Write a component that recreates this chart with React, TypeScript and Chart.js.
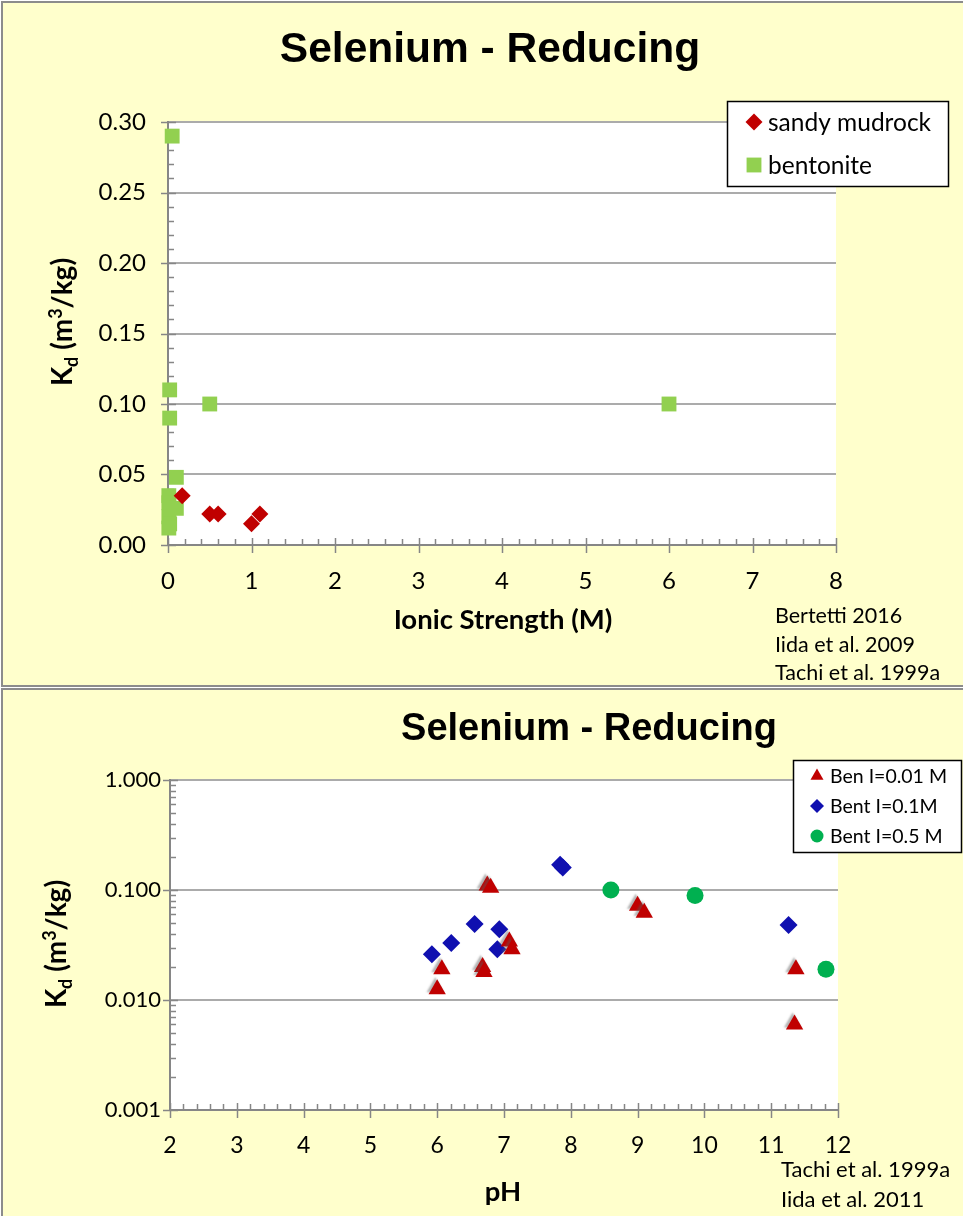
import React, { useEffect, useRef } from 'react';
import { Chart, registerables } from 'chart.js';
import { drawPoint } from 'chart.js/helpers';

Chart.register(...registerables);

// ---------- Top chart data (Kd vs ionic strength) ----------
const mudrockIonic = [0.17, 0.5, 0.6, 1.0, 1.1];
const mudrockKd = [0.035, 0.022, 0.022, 0.015, 0.022];
const bentoniteIonic = [0.05, 0.02, 0.5, 0.02, 0.1, 6.0, 0.01, 0.01, 0.1, 0.01, 0.02, 0.01];
const bentoniteKd = [0.29, 0.11, 0.10, 0.09, 0.048, 0.10, 0.035, 0.03, 0.026, 0.02, 0.015, 0.012];
const topXTicks = [0, 1, 2, 3, 4, 5, 6, 7, 8];
const topYTicks = [0, 0.05, 0.1, 0.15, 0.2, 0.25, 0.3];

// ---------- Bottom chart data (Kd vs pH) ----------
const ben001PH = [6.75, 6.8, 6.07, 6.0, 6.68, 6.7, 7.08, 7.12, 9.0, 9.1, 11.37, 11.35];
const ben001Kd = [0.11, 0.105, 0.019, 0.0125, 0.020, 0.018, 0.034, 0.029, 0.072, 0.062, 0.019, 0.006];
const bent01PH = [5.92, 6.21, 6.56, 6.93, 6.9, 7.84, 7.88, 11.26];
const bent01Kd = [0.026, 0.033, 0.049, 0.044, 0.029, 0.17, 0.16, 0.048];
const bent05PH = [8.6, 9.86, 11.82];
const bent05Kd = [0.10, 0.089, 0.019];
const botXTicks = [2, 3, 4, 5, 6, 7, 8, 9, 10, 11, 12];
const botYTicks = [0.001, 0.01, 0.1, 1];

const TITLE = 'Selenium - Reducing';
const topCitations = ['Bertetti 2016', 'Iida et al. 2009', 'Tachi et al. 1999a'];
const botCitations = ['Tachi et al. 1999a', 'Iida et al. 2011'];

const RED = '#C00000';
const LGREEN = '#92D050';
const BLUE = '#1010B0';
const DGREEN = '#00B050';
const AXIS = '#868686';
const GRID = '#ababab';

const W = 963;
const TOP_H = 687;
const BOT_H = 528;

const pts = (xs: number[], ys: number[]) => xs.map((x, i) => ({ x, y: ys[i] }));

function drawKd(ctx: CanvasRenderingContext2D, cx: number, cy: number, size: number) {
  ctx.save();
  ctx.translate(cx, cy);
  ctx.rotate(-Math.PI / 2);
  const big = `bold ${size}px Lato`;
  const small = `bold ${Math.round(size * 0.66)}px Lato`;
  const parts = [
    { t: 'K', f: big, dy: 0 },
    { t: 'd', f: small, dy: size * 0.22 },
    { t: ' (m', f: big, dy: 0 },
    { t: '3', f: small, dy: -size * 0.36 },
    { t: '/kg)', f: big, dy: 0 },
  ];
  let total = 0;
  const ws = parts.map((p) => {
    ctx.font = p.f;
    const w = ctx.measureText(p.t).width;
    total += w;
    return w;
  });
  let x = -total / 2;
  ctx.fillStyle = '#000';
  ctx.textBaseline = 'alphabetic';
  ctx.textAlign = 'left';
  parts.forEach((p, i) => {
    ctx.font = p.f;
    ctx.fillText(p.t, x, size * 0.36 + p.dy);
    x += ws[i];
  });
  ctx.restore();
}

type LegendItem = { label: string; style: string; radius: number; color: string };
type DecorSpec = {
  title: { x: number; y: number; size: number };
  kd: { x: number; y: number; size: number };
  xTitle: { text: string; x: number; y: number; size: number };
  cites: { lines: string[]; x: number; y0: number; dy: number; size: number };
  legend: { x: number; y: number; w: number; h: number; items: LegendItem[]; y0: number; dy: number; mx: number; tx: number; size: number };
  xMinorStep: number;
  yMinor: number[];
  shadowIndex?: number;
};

function makeDecor(spec: DecorSpec) {
  return {
    id: 'decor',
    beforeDraw(chart: any) {
      const { ctx, chartArea: a } = chart;
      ctx.save();
      ctx.fillStyle = '#ffffff';
      ctx.fillRect(a.left, a.top, a.right - a.left, a.bottom - a.top);
      ctx.restore();
    },
    beforeDatasetsDraw(chart: any) {
      const { ctx, chartArea: a } = chart;
      const xs = chart.scales.x;
      const ys = chart.scales.y;
      ctx.save();
      ctx.strokeStyle = AXIS;
      ctx.lineWidth = 1.5;
      ctx.beginPath();
      const xMaj = xs.ticks.map((t: any) => t.value);
      for (let v = xs.min; v <= xs.max + 1e-9; v += spec.xMinorStep) {
        const px = Math.round(xs.getPixelForValue(v)) + 0.5;
        const isMaj = xMaj.some((m: number) => Math.abs(m - v) < 1e-6);
        if (isMaj) {
          ctx.moveTo(px, a.bottom - 7);
          ctx.lineTo(px, a.bottom + 8);
        } else {
          ctx.moveTo(px, a.bottom - 6);
          ctx.lineTo(px, a.bottom);
        }
      }
      ys.ticks.forEach((t: any) => {
        const py = Math.round(ys.getPixelForValue(t.value)) + 0.5;
        ctx.moveTo(a.left - 7, py);
        ctx.lineTo(a.left + 8, py);
      });
      spec.yMinor.forEach((v) => {
        const py = Math.round(ys.getPixelForValue(v)) + 0.5;
        ctx.moveTo(a.left, py);
        ctx.lineTo(a.left + 6, py);
      });
      ctx.stroke();
      ctx.restore();
    },
    beforeDatasetDraw(chart: any, args: any) {
      if (spec.shadowIndex === args.index) {
        const ctx = chart.ctx;
        ctx.save();
        ctx.shadowColor = 'rgba(90,90,90,0.45)';
        ctx.shadowBlur = 2;
        ctx.shadowOffsetX = -2;
        ctx.shadowOffsetY = -2;
      }
    },
    afterDatasetDraw(chart: any, args: any) {
      if (spec.shadowIndex === args.index) chart.ctx.restore();
    },
    afterDraw(chart: any) {
      const ctx: CanvasRenderingContext2D = chart.ctx;
      ctx.save();
      ctx.fillStyle = '#000';
      ctx.font = `bold ${spec.title.size}px "Liberation Sans", Arial, sans-serif`;
      ctx.textAlign = 'center';
      ctx.textBaseline = 'middle';
      ctx.fillText(TITLE, spec.title.x, spec.title.y);
      ctx.font = `bold ${spec.xTitle.size}px Lato`;
      ctx.fillText(spec.xTitle.text, spec.xTitle.x, spec.xTitle.y);
      drawKd(ctx, spec.kd.x, spec.kd.y, spec.kd.size);
      ctx.font = `${spec.cites.size}px Lato`;
      ctx.textAlign = 'left';
      ctx.textBaseline = 'alphabetic';
      spec.cites.lines.forEach((l, i) => ctx.fillText(l, spec.cites.x, spec.cites.y0 + i * spec.cites.dy));
      const L = spec.legend;
      ctx.fillStyle = '#fff';
      ctx.fillRect(L.x, L.y, L.w, L.h);
      ctx.strokeStyle = '#000';
      ctx.lineWidth = 1.5;
      ctx.strokeRect(L.x + 0.5, L.y + 0.5, L.w, L.h);
      L.items.forEach((it, i) => {
        const y = L.y0 + i * L.dy;
        ctx.fillStyle = it.color;
        drawPoint(ctx, { pointStyle: it.style as any, radius: it.radius, rotation: 0, borderWidth: 0 } as any, L.mx, y);
        ctx.fillStyle = '#000';
        ctx.font = `${L.size}px Lato`;
        ctx.textAlign = 'left';
        ctx.textBaseline = 'middle';
        ctx.fillText(it.label, L.tx, y + 1);
      });
      ctx.restore();
    },
  };
}

function topConfig(): any {
  const yMinor: number[] = [];
  for (let i = 0; i <= 30; i++) if (i % 5 !== 0) yMinor.push(i / 100);
  return {
    type: 'scatter',
    data: {
      datasets: [
        {
          label: 'sandy mudrock',
          data: pts(mudrockIonic, mudrockKd),
          pointStyle: 'rectRot',
          pointRadius: 8.5,
          pointBackgroundColor: RED,
          pointBorderWidth: 0,
          clip: false,
        },
        {
          label: 'bentonite',
          data: pts(bentoniteIonic, bentoniteKd),
          pointStyle: 'rect',
          pointRadius: 10.5,
          pointBackgroundColor: LGREEN,
          pointBorderWidth: 0,
          clip: false,
        },
      ],
    },
    options: {
      animation: false,
      responsive: false,
      devicePixelRatio: 1,
      layout: { padding: { left: 0, top: 122, right: W - 836, bottom: 0 } },
      plugins: { legend: { display: false }, tooltip: { enabled: false }, title: { display: false } },
      scales: {
        x: {
          type: 'linear',
          min: 0,
          max: 8,
          afterBuildTicks: (s: any) => { s.ticks = topXTicks.map((v) => ({ value: v })); },
          afterFit: (s: any) => { s.height = TOP_H - 545; },
          grid: { display: false, drawTicks: false },
          border: { color: AXIS, width: 2 },
          ticks: { padding: 22, font: { family: 'Lato', size: 24 }, color: '#000', callback: (v: any) => String(v) },
        },
        y: {
          type: 'linear',
          min: 0,
          max: 0.3,
          afterBuildTicks: (s: any) => { s.ticks = topYTicks.map((v) => ({ value: v })); },
          afterFit: (s: any) => { s.width = 168; },
          grid: { color: (c: any) => (c.tick && c.tick.value === 0 ? 'rgba(0,0,0,0)' : GRID), lineWidth: 2, drawTicks: false },
          border: { color: AXIS, width: 2 },
          ticks: { padding: 22, font: { family: 'Lato', size: 24 }, color: '#000', callback: (v: any) => Number(v).toFixed(2) },
        },
      },
    },
    plugins: [
      makeDecor({
        title: { x: 490, y: 50, size: 42.5 },
        kd: { x: 62, y: 322, size: 28 },
        xTitle: { text: 'Ionic Strength (M)', x: 503, y: 620, size: 27.5 },
        cites: { lines: topCitations, x: 775, y0: 623, dy: 28.5, size: 21.5 },
        legend: {
          x: 727, y: 101, w: 221, h: 85,
          items: [
            { label: 'sandy mudrock', style: 'rectRot', radius: 8.5, color: RED },
            { label: 'bentonite', style: 'rect', radius: 10.5, color: LGREEN },
          ],
          y0: 122, dy: 43, mx: 754, tx: 768, size: 24.5,
        },
        xMinorStep: 0.2,
        yMinor,
      }),
    ],
  };
}

function botConfig(): any {
  const yMinor: number[] = [];
  [0.001, 0.01, 0.1].forEach((d) => { for (let k = 2; k <= 9; k++) yMinor.push(k * d); });
  return {
    type: 'scatter',
    data: {
      datasets: [
        {
          label: 'Ben I=0.01 M',
          data: pts(ben001PH, ben001Kd),
          pointStyle: 'triangle',
          pointRadius: 10,
          pointBackgroundColor: RED,
          pointBorderWidth: 0,
          clip: false,
        },
        {
          label: 'Bent I=0.1M',
          data: pts(bent01PH, bent01Kd),
          pointStyle: 'rectRot',
          pointRadius: 9,
          pointBackgroundColor: BLUE,
          pointBorderWidth: 0,
          clip: false,
        },
        {
          label: 'Bent I=0.5 M',
          data: pts(bent05PH, bent05Kd),
          pointStyle: 'circle',
          pointRadius: 8.5,
          pointBackgroundColor: DGREEN,
          pointBorderWidth: 0,
          clip: false,
        },
      ],
    },
    options: {
      animation: false,
      responsive: false,
      devicePixelRatio: 1,
      layout: { padding: { left: 0, top: 92, right: W - 838, bottom: 0 } },
      plugins: { legend: { display: false }, tooltip: { enabled: false }, title: { display: false } },
      scales: {
        x: {
          type: 'linear',
          min: 2,
          max: 12,
          afterBuildTicks: (s: any) => { s.ticks = botXTicks.map((v) => ({ value: v })); },
          afterFit: (s: any) => { s.height = BOT_H - 422; },
          grid: { display: false, drawTicks: false },
          border: { color: AXIS, width: 2 },
          ticks: { padding: 22, font: { family: 'Lato', size: 23 }, color: '#000', callback: (v: any) => String(v) },
        },
        y: {
          type: 'logarithmic',
          min: 0.001,
          max: 1,
          afterBuildTicks: (s: any) => { s.ticks = botYTicks.map((v) => ({ value: v })); },
          afterFit: (s: any) => { s.width = 170; },
          grid: { color: (c: any) => (c.tick && c.tick.value === 0.001 ? 'rgba(0,0,0,0)' : GRID), lineWidth: 2, drawTicks: false },
          border: { color: AXIS, width: 2 },
          ticks: { padding: 9, font: { family: 'Lato', size: 22 }, color: '#000', callback: (v: any) => Number(v).toFixed(3) },
        },
      },
    },
    plugins: [
      makeDecor({
        title: { x: 589, y: 42, size: 38 },
        kd: { x: 56, y: 256, size: 28 },
        xTitle: { text: 'pH', x: 503, y: 504, size: 27.5 },
        cites: { lines: botCitations, x: 781, y0: 489, dy: 30, size: 22 },
        legend: {
          x: 793, y: 72, w: 168, h: 92,
          items: [
            { label: 'Ben I=0.01 M', style: 'triangle', radius: 7.5, color: RED },
            { label: 'Bent I=0.1M', style: 'rectRot', radius: 7, color: BLUE },
            { label: 'Bent I=0.5 M', style: 'circle', radius: 6.5, color: DGREEN },
          ],
          y0: 88, dy: 30, mx: 817, tx: 830, size: 19.5,
        },
        xMinorStep: 0.2,
        yMinor,
        shadowIndex: 0,
      }),
    ],
  };
}

function ChartCanvas({ make, top, height }: { make: () => any; top: number; height: number }) {
  const ref = useRef<HTMLCanvasElement>(null);
  useEffect(() => {
    const chart = new Chart(ref.current as HTMLCanvasElement, make());
    return () => chart.destroy();
  }, []);
  return (
    <canvas
      ref={ref}
      width={W}
      height={height}
      style={{ position: 'absolute', left: 0, top, width: W, height }}
    />
  );
}

export default function App() {
  return (
    <div style={{ position: 'absolute', left: 0, top: 0, width: W, height: 1216, overflow: 'hidden', background: '#fff' }}>
      <div style={{ position: 'absolute', left: 1, top: 1, width: 980, height: 682, background: '#FFFFCC', border: '2px solid #8c8c8c' }} />
      <div style={{ position: 'absolute', left: 1, top: 688, width: 980, height: 540, background: '#FFFFCC', border: '2px solid #8c8c8c' }} />
      <ChartCanvas make={topConfig} top={0} height={TOP_H} />
      <ChartCanvas make={botConfig} top={688} height={BOT_H} />
    </div>
  );
}
